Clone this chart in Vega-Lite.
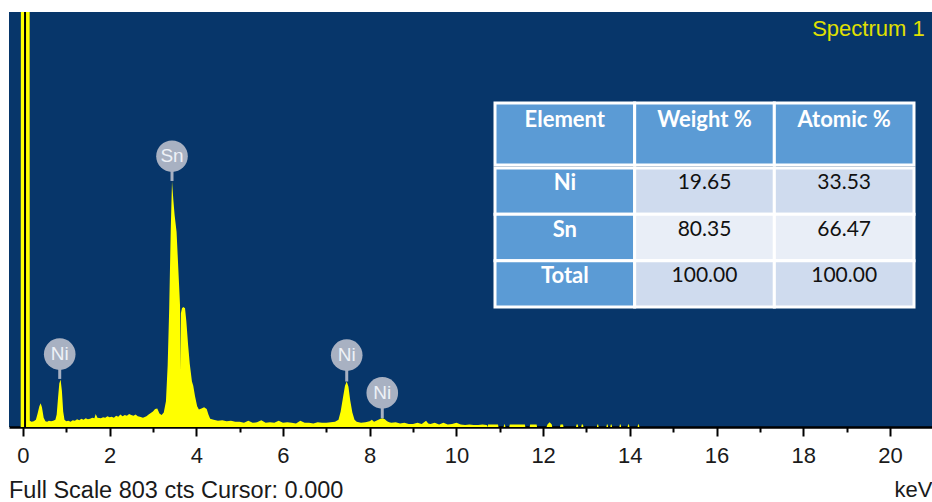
{
  "$schema": "https://vega.github.io/schema/vega-lite/v6.json",
  "width": 923,
  "height": 415,
  "padding": {"left": 9, "top": 11, "right": 0, "bottom": 0},
  "autosize": {"type": "pad"},
  "background": "white",
  "config": {"view": {"fill": "#07366A", "stroke": null}},
  "title": {"text": "Full Scale 803 cts Cursor: 0.000", "orient": "bottom", "anchor": "start", "frame": "group", "font": "Liberation Sans", "fontSize": 23.5, "fontWeight": "normal", "color": "#1a1a1a", "offset": -21},
  "datasets": {
    "spectrum": [
      {"kev": -0.32, "cts": 0}, {"kev": -0.05, "cts": 0}, {"kev": -0.04, "cts": 2000}, {"kev": 0.15, "cts": 2000},
      {"kev": 0.16, "cts": 12}, {"kev": 0.2, "cts": 10}, {"kev": 0.25, "cts": 11}, {"kev": 0.3, "cts": 14},
      {"kev": 0.34, "cts": 26}, {"kev": 0.38, "cts": 40}, {"kev": 0.41, "cts": 46}, {"kev": 0.44, "cts": 38},
      {"kev": 0.48, "cts": 18}, {"kev": 0.52, "cts": 11}, {"kev": 0.56, "cts": 10}, {"kev": 0.6, "cts": 12},
      {"kev": 0.65, "cts": 11}, {"kev": 0.7, "cts": 12}, {"kev": 0.75, "cts": 14}, {"kev": 0.78, "cts": 24},
      {"kev": 0.81, "cts": 55}, {"kev": 0.84, "cts": 84}, {"kev": 0.87, "cts": 92}, {"kev": 0.9, "cts": 70},
      {"kev": 0.93, "cts": 30}, {"kev": 0.96, "cts": 14}, {"kev": 1.0, "cts": 11}, {"kev": 1.05, "cts": 12},
      {"kev": 1.1, "cts": 10}, {"kev": 1.15, "cts": 13}, {"kev": 1.2, "cts": 12}, {"kev": 1.25, "cts": 15},
      {"kev": 1.3, "cts": 13}, {"kev": 1.35, "cts": 16}, {"kev": 1.4, "cts": 14}, {"kev": 1.45, "cts": 17},
      {"kev": 1.5, "cts": 15}, {"kev": 1.55, "cts": 16}, {"kev": 1.6, "cts": 18}, {"kev": 1.65, "cts": 17},
      {"kev": 1.68, "cts": 25}, {"kev": 1.72, "cts": 18}, {"kev": 1.8, "cts": 17}, {"kev": 1.85, "cts": 19},
      {"kev": 1.9, "cts": 18}, {"kev": 1.95, "cts": 21}, {"kev": 2.0, "cts": 19}, {"kev": 2.05, "cts": 20},
      {"kev": 2.1, "cts": 18}, {"kev": 2.15, "cts": 22}, {"kev": 2.2, "cts": 20}, {"kev": 2.25, "cts": 24},
      {"kev": 2.3, "cts": 21}, {"kev": 2.35, "cts": 23}, {"kev": 2.4, "cts": 22}, {"kev": 2.45, "cts": 25},
      {"kev": 2.5, "cts": 23}, {"kev": 2.55, "cts": 22}, {"kev": 2.6, "cts": 24}, {"kev": 2.65, "cts": 21},
      {"kev": 2.7, "cts": 20}, {"kev": 2.77, "cts": 18}, {"kev": 2.85, "cts": 21}, {"kev": 2.9, "cts": 24},
      {"kev": 2.95, "cts": 27}, {"kev": 3.0, "cts": 30}, {"kev": 3.05, "cts": 35}, {"kev": 3.1, "cts": 36},
      {"kev": 3.15, "cts": 26}, {"kev": 3.2, "cts": 23}, {"kev": 3.25, "cts": 28}, {"kev": 3.3, "cts": 50},
      {"kev": 3.34, "cts": 120}, {"kev": 3.375, "cts": 229}, {"kev": 3.41, "cts": 378}, {"kev": 3.44, "cts": 476},
      {"kev": 3.47, "cts": 440}, {"kev": 3.5, "cts": 410}, {"kev": 3.545, "cts": 378}, {"kev": 3.6, "cts": 280},
      {"kev": 3.625, "cts": 235}, {"kev": 3.635, "cts": 110}, {"kev": 3.645, "cts": 220}, {"kev": 3.67, "cts": 230},
      {"kev": 3.7, "cts": 232}, {"kev": 3.74, "cts": 230}, {"kev": 3.77, "cts": 205}, {"kev": 3.81, "cts": 160},
      {"kev": 3.85, "cts": 122}, {"kev": 3.9, "cts": 88}, {"kev": 3.93, "cts": 80}, {"kev": 3.97, "cts": 60},
      {"kev": 4.02, "cts": 40}, {"kev": 4.06, "cts": 34}, {"kev": 4.12, "cts": 36}, {"kev": 4.18, "cts": 38},
      {"kev": 4.24, "cts": 35}, {"kev": 4.28, "cts": 24}, {"kev": 4.32, "cts": 16}, {"kev": 4.4, "cts": 14},
      {"kev": 4.5, "cts": 12}, {"kev": 4.6, "cts": 13}, {"kev": 4.7, "cts": 11}, {"kev": 4.8, "cts": 12},
      {"kev": 4.9, "cts": 10}, {"kev": 5.0, "cts": 10}, {"kev": 5.1, "cts": 8}, {"kev": 5.2, "cts": 12},
      {"kev": 5.3, "cts": 8}, {"kev": 5.4, "cts": 9}, {"kev": 5.5, "cts": 13}, {"kev": 5.6, "cts": 8},
      {"kev": 5.7, "cts": 9}, {"kev": 5.8, "cts": 8}, {"kev": 5.9, "cts": 12}, {"kev": 6.0, "cts": 8},
      {"kev": 6.1, "cts": 9}, {"kev": 6.2, "cts": 8}, {"kev": 6.3, "cts": 7}, {"kev": 6.4, "cts": 12},
      {"kev": 6.5, "cts": 8}, {"kev": 6.6, "cts": 8}, {"kev": 6.7, "cts": 7}, {"kev": 6.8, "cts": 9},
      {"kev": 6.9, "cts": 8}, {"kev": 7.0, "cts": 8}, {"kev": 7.1, "cts": 9}, {"kev": 7.2, "cts": 10},
      {"kev": 7.28, "cts": 14}, {"kev": 7.33, "cts": 30}, {"kev": 7.38, "cts": 55}, {"kev": 7.43, "cts": 80},
      {"kev": 7.47, "cts": 88}, {"kev": 7.51, "cts": 78}, {"kev": 7.55, "cts": 52}, {"kev": 7.6, "cts": 28},
      {"kev": 7.65, "cts": 14}, {"kev": 7.7, "cts": 10}, {"kev": 7.8, "cts": 8}, {"kev": 7.9, "cts": 9},
      {"kev": 8.0, "cts": 11}, {"kev": 8.05, "cts": 14}, {"kev": 8.1, "cts": 10}, {"kev": 8.15, "cts": 12},
      {"kev": 8.2, "cts": 14}, {"kev": 8.25, "cts": 16}, {"kev": 8.3, "cts": 17}, {"kev": 8.35, "cts": 15},
      {"kev": 8.4, "cts": 11}, {"kev": 8.45, "cts": 9}, {"kev": 8.5, "cts": 8}, {"kev": 8.6, "cts": 9},
      {"kev": 8.7, "cts": 7}, {"kev": 8.8, "cts": 8}, {"kev": 8.9, "cts": 6}, {"kev": 9.0, "cts": 6},
      {"kev": 9.1, "cts": 8}, {"kev": 9.2, "cts": 6}, {"kev": 9.3, "cts": 12}, {"kev": 9.35, "cts": 7},
      {"kev": 9.4, "cts": 6}, {"kev": 9.5, "cts": 8}, {"kev": 9.6, "cts": 5}, {"kev": 9.7, "cts": 8},
      {"kev": 9.8, "cts": 5}, {"kev": 9.9, "cts": 6}, {"kev": 10.0, "cts": 8}, {"kev": 10.1, "cts": 5},
      {"kev": 10.2, "cts": 4}, {"kev": 10.3, "cts": 5}, {"kev": 10.4, "cts": 4}, {"kev": 10.5, "cts": 4},
      {"kev": 10.6, "cts": 5}, {"kev": 10.7, "cts": 4}, {"kev": 10.72, "cts": 0}, {"kev": 10.73, "cts": 5},
      {"kev": 10.96, "cts": 5}, {"kev": 10.97, "cts": 0}, {"kev": 11.09, "cts": 0}, {"kev": 11.1, "cts": 5},
      {"kev": 11.12, "cts": 5}, {"kev": 11.13, "cts": 0}, {"kev": 11.22, "cts": 0}, {"kev": 11.23, "cts": 5},
      {"kev": 11.58, "cts": 5}, {"kev": 11.59, "cts": 0}, {"kev": 11.69, "cts": 0}, {"kev": 11.7, "cts": 5},
      {"kev": 11.85, "cts": 5}, {"kev": 11.86, "cts": 0}, {"kev": 12.08, "cts": 0}, {"kev": 12.1, "cts": 5},
      {"kev": 12.15, "cts": 9}, {"kev": 12.2, "cts": 5}, {"kev": 12.21, "cts": 0}, {"kev": 12.39, "cts": 0},
      {"kev": 12.4, "cts": 5}, {"kev": 12.46, "cts": 5}, {"kev": 12.47, "cts": 0}, {"kev": 12.76, "cts": 0},
      {"kev": 12.77, "cts": 5}, {"kev": 12.8, "cts": 5}, {"kev": 12.81, "cts": 0}, {"kev": 12.88, "cts": 0},
      {"kev": 12.89, "cts": 5}, {"kev": 12.92, "cts": 5}, {"kev": 12.93, "cts": 0}, {"kev": 13.24, "cts": 0},
      {"kev": 13.25, "cts": 5}, {"kev": 13.27, "cts": 5}, {"kev": 13.28, "cts": 0}, {"kev": 13.46, "cts": 0},
      {"kev": 13.47, "cts": 5}, {"kev": 13.49, "cts": 5}, {"kev": 13.5, "cts": 0}, {"kev": 13.55, "cts": 0},
      {"kev": 13.56, "cts": 5}, {"kev": 13.58, "cts": 5}, {"kev": 13.59, "cts": 0}, {"kev": 13.76, "cts": 0},
      {"kev": 13.77, "cts": 5}, {"kev": 13.79, "cts": 5}, {"kev": 13.8, "cts": 0}, {"kev": 13.95, "cts": 0},
      {"kev": 13.96, "cts": 5}, {"kev": 13.98, "cts": 5}, {"kev": 13.99, "cts": 0}, {"kev": 14.18, "cts": 0},
      {"kev": 14.19, "cts": 5}, {"kev": 14.21, "cts": 5}, {"kev": 14.22, "cts": 0}, {"kev": 20.97, "cts": 0}
    ],
    "peaks": [
      {"element": "Ni", "kev": 0.85, "label_cts": 141, "peak_cts": 93},
      {"element": "Sn", "kev": 3.44, "label_cts": 524, "peak_cts": 476},
      {"element": "Ni", "kev": 7.47, "label_cts": 139, "peak_cts": 88},
      {"element": "Ni", "kev": 8.29, "label_cts": 66, "peak_cts": 17}
    ],
    "header": [
      {"row": "Header", "col": "Element"},
      {"row": "Header", "col": "Weight %"},
      {"row": "Header", "col": "Atomic %"}
    ],
    "body": [
      {"row": "Ni", "col": "Element", "text": "Ni"},
      {"row": "Ni", "col": "Weight %", "text": "19.65"},
      {"row": "Ni", "col": "Atomic %", "text": "33.53"},
      {"row": "Sn", "col": "Element", "text": "Sn"},
      {"row": "Sn", "col": "Weight %", "text": "80.35"},
      {"row": "Sn", "col": "Atomic %", "text": "66.47"},
      {"row": "Total", "col": "Element", "text": "Total"},
      {"row": "Total", "col": "Weight %", "text": "100.00"},
      {"row": "Total", "col": "Atomic %", "text": "100.00"}
    ]
  },
  "layer": [
    {
      "layer": [
        {
          "data": {"name": "spectrum"},
          "mark": {"type": "area", "color": "#FFFF00", "interpolate": "linear", "clip": true},
          "encoding": {
            "x": {
              "field": "kev", "type": "quantitative",
              "scale": {"domain": [-0.32, 20.97], "nice": false, "zero": false},
              "axis": {
                "title": "keV", "titleAnchor": "end", "titleAlign": "right",
                "titleFont": "Liberation Sans", "titleFontSize": 22, "titleFontWeight": "normal", "titleColor": "#1a1a1a", "titlePadding": 13,
                "values": [0,0.5,1,1.5,2,2.5,3,3.5,4,4.5,5,5.5,6,6.5,7,7.5,8,8.5,9,9.5,10,10.5,11,11.5,12,12.5,13,13.5,14,14.5,15,15.5,16,16.5,17,17.5,18,18.5,19,19.5,20,20.5],
                "labelExpr": "datum.value % 2 === 0 ? format(datum.value, 'd') : ''",
                "labelFont": "Liberation Sans", "labelFontSize": 22, "labelColor": "#1a1a1a",
                "labelPadding": 9, "labelBaseline": "top", "labelFlush": false, "labelOverlap": false,
                "domainColor": "#000000", "domainWidth": 2.5,
                "tickColor": "#000000", "tickWidth": 2,
                "tickSize": {"condition": {"test": "datum.value % 2 === 0", "value": 9}, "value": 5},
                "grid": false
              }
            },
            "y": {"field": "cts", "type": "quantitative", "scale": {"domain": [0, 803], "nice": false}, "axis": null}
          }
        },
        {
          "data": {"values": [{"cursor": 0.0}]},
          "mark": {"type": "rule", "color": "#000000", "strokeWidth": 2},
          "encoding": {"x": {"datum": 0.05}}
        },
        {
          "data": {"name": "peaks"},
          "mark": {"type": "rule", "color": "#A8B1C2", "strokeWidth": 3},
          "encoding": {
            "x": {"field": "kev", "type": "quantitative"},
            "y": {"field": "label_cts", "type": "quantitative"},
            "y2": {"field": "peak_cts"}
          }
        },
        {
          "data": {"name": "peaks"},
          "mark": {"type": "point", "shape": "circle", "filled": true, "size": 1000, "color": "#A8B1C2", "opacity": 1},
          "encoding": {
            "x": {"field": "kev", "type": "quantitative"},
            "y": {"field": "label_cts", "type": "quantitative"}
          }
        },
        {
          "data": {"name": "peaks"},
          "mark": {"type": "text", "font": "Liberation Sans", "fontSize": 19, "color": "#EEF1F7", "baseline": "middle", "align": "center"},
          "encoding": {
            "x": {"field": "kev", "type": "quantitative"},
            "y": {"field": "label_cts", "type": "quantitative"},
            "text": {"field": "element"}
          }
        },
        {
          "data": {"values": [{"label": "Spectrum 1"}]},
          "mark": {"type": "text", "font": "Liberation Sans", "fontSize": 22, "color": "#E0E000", "align": "right", "baseline": "middle"},
          "encoding": {
            "x": {"datum": 20.8},
            "y": {"datum": 770},
            "text": {"field": "label"}
          }
        }
      ]
    },
    {
      "data": {"name": "header"},
      "encoding": {
        "x": {"field": "col", "type": "nominal", "sort": null, "scale": {"type": "band", "domain": ["Element", "Weight %", "Atomic %"], "range": [486, 905], "paddingInner": 0, "paddingOuter": 0}, "axis": null},
        "y": {"field": "row", "type": "nominal", "scale": {"type": "band", "domain": ["Header"], "range": [91, 153], "paddingInner": 0, "paddingOuter": 0}, "axis": null}
      },
      "layer": [
        {"mark": {"type": "rect", "fill": "#5B9BD5", "stroke": "#FFFFFF", "strokeWidth": 3}},
        {"mark": {"type": "text", "font": "Lato", "fontSize": 22, "fontWeight": "bold", "color": "#FFFFFF", "baseline": "middle", "align": "center", "dy": -14}, "encoding": {"text": {"field": "col"}}}
      ]
    },
    {
      "data": {"name": "body"},
      "encoding": {
        "x": {"field": "col", "type": "nominal", "sort": null, "scale": {"type": "band", "domain": ["Element", "Weight %", "Atomic %"], "range": [486, 905], "paddingInner": 0, "paddingOuter": 0}, "axis": null},
        "y": {"field": "row", "type": "nominal", "scale": {"type": "band", "domain": ["Ni", "Sn", "Total"], "range": [156, 295], "paddingInner": 0, "paddingOuter": 0}, "axis": null}
      },
      "layer": [
        {
          "mark": {"type": "rect", "stroke": "#FFFFFF", "strokeWidth": 3},
          "encoding": {
            "fill": {"condition": [{"test": "datum.col === 'Element'", "value": "#5B9BD5"}, {"test": "datum.row === 'Sn'", "value": "#E9EEF7"}], "value": "#CFDBEE"}
          }
        },
        {
          "transform": [{"filter": "datum.col === 'Element'"}],
          "mark": {"type": "text", "font": "Lato", "fontSize": 22, "fontWeight": "bold", "color": "#FFFFFF", "baseline": "middle", "align": "center", "dy": -8},
          "encoding": {"text": {"field": "text"}}
        },
        {
          "transform": [{"filter": "datum.col !== 'Element'"}],
          "mark": {"type": "text", "font": "Lato", "fontSize": 21, "color": "#111111", "baseline": "middle", "align": "center", "dy": -8},
          "encoding": {"text": {"field": "text"}}
        }
      ]
    }
  ],
  "resolve": {"scale": {"x": "independent", "y": "independent"}}
}
